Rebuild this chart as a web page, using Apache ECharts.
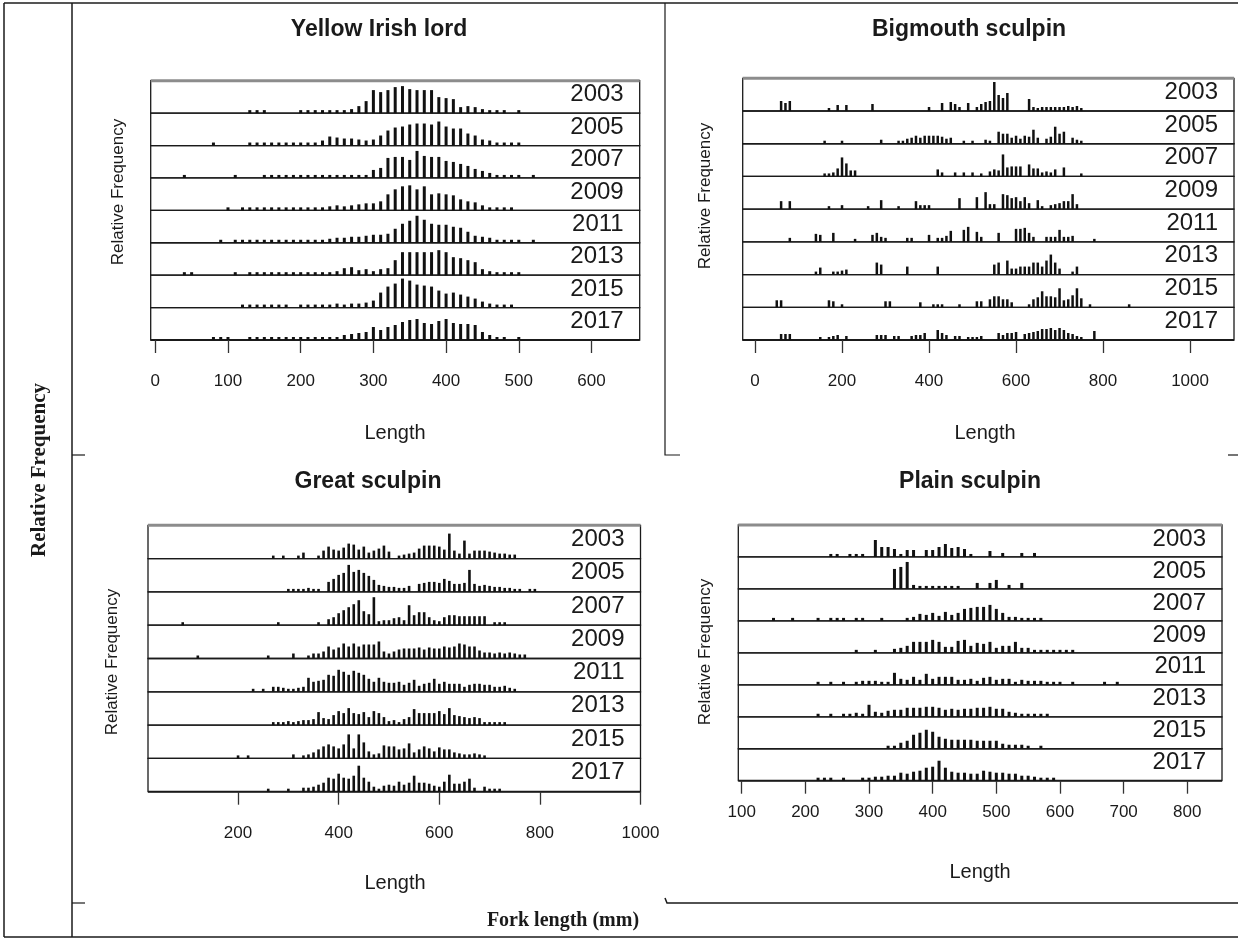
<!DOCTYPE html>
<html>
<head>
<meta charset="utf-8">
<script src="https://cdn.jsdelivr.net/npm/echarts@6/dist/echarts.min.js"></script>
<style>
html, body { margin: 0; padding: 0; background: #fff; }
#chart { width: 1238px; height: 940px; }
</style>
</head>
<body>
<div id="chart"></div>
<script>
// survey years, one strip per year (top to bottom)
const years = [2003, 2005, 2007, 2009, 2011, 2013, 2015, 2017]

// each run = [first length (mm), heights of consecutive 10 mm bins...]
const yellowIrishLord = [
  [[130, 1, 1, 1], [200, 1, 1, 1, 1, 1, 1.5, 2, 4, 7, 12, 23, 21, 23, 26, 27, 24, 23, 23, 23, 16, 15, 14, 6, 7, 6, 4, 3, 3, 2], [500, 1.5]],
  [[80, 1.5], [130, 1, 1, 1, 1, 1, 1, 1, 1, 1.5, 2, 5, 9, 8, 7, 7, 6, 5, 6, 10, 15, 18, 19, 21, 22, 22, 21, 24, 19, 17, 17, 12, 10, 6, 5, 3, 3, 2.5, 2]],
  [[40, 1.5], [110, 1.5], [150, 1, 1, 1, 1, 1, 1, 1, 1, 1, 1, 1, 2, 2, 3, 3, 8, 10, 20, 21, 21, 18, 27, 22, 21, 21, 17, 16, 14, 12, 9, 7, 5, 2.5, 2, 2, 2], [520, 2]],
  [[100, 1.5], [120, 1, 1, 1, 1.5, 1.5, 1.5, 1.5, 1, 1, 1, 1.5, 1.5, 4, 5, 4, 5, 6, 7, 7, 9, 16, 21, 24, 25, 21, 24, 16, 17, 16, 15, 11, 9, 8, 5, 3, 2, 2, 2]],
  [[90, 1.5], [110, 1, 1, 1, 1, 1, 2, 3, 3, 2, 1, 1, 1, 1.5, 4, 5, 5, 6, 6, 7, 8, 8, 9, 14, 19, 22, 27, 23, 19, 18, 18, 16, 15, 11, 7, 6, 5, 3, 2, 2, 2], [520, 2]],
  [[40, 1, 1], [110, 1], [130, 1, 1, 1, 1, 1, 1, 1, 1, 1, 1, 1, 2, 4, 7, 8, 5, 6, 4, 6, 7, 15, 23, 23, 23, 23, 23, 25, 23, 18, 17, 15, 13, 6, 4, 3, 3, 2, 2]],
  [[120, 1, 1, 1, 1, 1, 1, 1], [200, 1, 1, 1.5, 2, 3, 4, 3, 4, 4, 5, 7, 15, 21, 24, 29, 27, 23, 22, 21, 17, 14, 15, 13, 11, 9, 6, 4, 3, 2, 2]],
  [[80, 1, 1, 1], [130, 1, 1, 1, 1, 1, 1, 1, 1, 1, 1, 1.5, 2, 3, 5, 6, 7, 8, 13, 10, 13, 15, 18, 20, 21, 17, 16, 19, 21, 17, 16, 16, 15, 8, 5, 3, 2], [500, 1.5]]
]

const bigmouthSculpin = [
  [[60, 10, 8, 10], [170, 3], [190, 6], [210, 6], [270, 7], [400, 4], [430, 8], [450, 9, 7, 4], [490, 8], [510, 4, 7, 9, 10, 29, 16, 13, 18], [630, 12, 4, 3, 4, 4, 4, 4, 4, 4, 5, 4, 5, 3]],
  [[160, 3], [200, 3], [290, 4], [330, 3, 3, 5, 6, 8, 6, 8, 8, 8, 8, 7, 5, 6], [480, 3], [500, 3], [530, 4, 3], [560, 12, 10, 10, 6, 8, 5, 8, 7, 14, 6], [670, 5, 7, 17, 10, 12], [730, 6, 4, 3]],
  [[160, 3, 3, 4, 8, 19, 13, 6, 6], [420, 7, 4], [460, 4], [480, 4], [500, 4], [520, 3], [540, 5, 7, 6, 22, 9, 10, 10, 10], [630, 12, 8, 8, 4, 5, 4, 7], [710, 9], [750, 3]],
  [[60, 8], [80, 8], [170, 3], [200, 4], [260, 3], [290, 9], [330, 3], [370, 8, 4, 4, 4], [470, 11], [510, 12], [530, 17, 5, 5], [570, 15, 14, 11, 12, 8, 12, 6], [650, 9, 3], [680, 4, 5, 6, 8, 8, 15, 5]],
  [[80, 4], [140, 8, 7], [180, 9], [230, 3], [270, 7, 9, 5, 4], [350, 4, 4], [400, 7], [420, 4, 4, 6, 11], [480, 12, 15], [510, 10, 5], [560, 9], [600, 13, 13, 14, 9, 5], [670, 5, 5, 5, 12, 5, 5, 6], [780, 3]],
  [[140, 3, 7], [180, 3, 3, 4, 5], [280, 12, 10], [350, 8], [420, 8], [550, 10, 12], [580, 14, 6, 6, 8, 8, 8, 12, 12, 8, 14, 20, 12, 6], [730, 3, 8]],
  [[50, 7, 7], [170, 7, 6], [200, 3], [300, 6, 6], [380, 5], [410, 3, 2, 2], [470, 3], [510, 6, 6], [540, 8, 11, 11, 8, 8, 5], [630, 3, 8, 10, 16, 11, 11, 10, 19, 7, 8, 12, 19, 9], [770, 3], [860, 3]],
  [[60, 6, 6, 6], [150, 3], [170, 3, 4, 5], [210, 4], [280, 5, 5, 5], [320, 4, 4], [360, 4, 5, 5, 7], [420, 10, 7, 5], [460, 4, 4], [490, 3, 3, 3, 4], [560, 7, 5, 7, 7, 8], [620, 6, 7, 8, 9, 11, 11, 12, 10, 12, 10, 7, 6, 4, 3], [780, 9]]
]

const greatSculpin = [
  [[270, 3, 0, 3, 0, 0, 3, 6, 0, 0, 3, 8, 12, 9, 8, 11, 15, 14, 9, 12, 6, 8, 10, 13, 7, 0, 3, 4, 5, 6, 10, 13, 13, 13, 12, 9, 25, 8, 5, 18, 5, 8, 8, 8, 7, 6, 5, 5, 4, 4]],
  [[300, 3, 3, 3, 3, 4, 3, 3, 0, 10, 13, 17, 19, 27, 20, 22, 19, 16, 12, 7, 6, 5, 5, 4, 4, 6, 0, 8, 9, 10, 10, 9, 13, 11, 8, 8, 9, 22, 8, 6, 7, 6, 5, 5, 4, 4, 3, 3, 0, 3, 3]],
  [[90, 3], [280, 3], [360, 3, 0, 6, 8, 12, 15, 18, 21, 25, 14, 11, 28, 4, 5, 5, 7, 8, 5, 20, 10, 13, 13, 8, 5, 4, 8, 10, 10, 9, 9, 9, 9, 9, 9, 0, 3, 3, 3]],
  [[120, 3], [260, 3], [310, 5, 0, 0, 3, 5, 5, 7, 12, 9, 11, 15, 12, 15, 12, 14, 14, 14, 17, 7, 5, 7, 9, 10, 10, 10, 11, 9, 11, 10, 10, 12, 11, 12, 15, 14, 12, 12, 8, 6, 6, 5, 6, 5, 6, 5, 4, 4]],
  [[230, 3, 0, 3, 0, 5, 5, 4, 3, 3, 4, 5, 14, 10, 11, 12, 17, 16, 22, 20, 17, 21, 19, 17, 13, 10, 14, 10, 9, 9, 10, 7, 9, 12, 6, 8, 9, 13, 8, 10, 8, 8, 8, 5, 7, 8, 8, 7, 7, 5, 5, 6, 4, 3]],
  [[270, 3, 3, 3, 4, 3, 4, 5, 5, 6, 13, 7, 6, 10, 14, 12, 17, 12, 11, 13, 8, 14, 12, 8, 4, 5, 3, 6, 8, 16, 12, 12, 12, 12, 14, 11, 17, 10, 9, 8, 7, 8, 7, 3, 3, 3, 3, 3]],
  [[200, 3], [220, 3], [310, 4, 0, 3, 4, 6, 9, 12, 14, 12, 10, 14, 24, 10, 24, 16, 7, 4, 5, 13, 12, 12, 9, 10, 15, 6, 9, 12, 10, 7, 11, 9, 9, 6, 5, 4, 4, 5, 4, 3]],
  [[260, 3], [300, 3], [330, 4, 4, 5, 7, 9, 14, 13, 18, 14, 13, 16, 26, 14, 10, 5, 3, 6, 7, 6, 10, 7, 9, 16, 9, 9, 8, 6, 5, 10, 17, 8, 8, 10, 13, 4, 0, 5, 3, 3, 3]]
]

const plainSculpin = [
  [[240, 3, 3], [270, 3, 3, 3], [310, 17, 10, 10, 8, 3, 7, 7, 0, 7, 7, 10, 13, 9, 10, 8, 3], [490, 6], [510, 4], [540, 4], [560, 4]],
  [[340, 20, 22, 27, 4, 3, 3, 3, 3, 3, 3, 3], [470, 6], [490, 6, 9], [520, 4], [540, 6]],
  [[150, 3], [180, 3], [220, 3], [240, 3, 3, 3], [280, 3, 3], [320, 3], [360, 3, 4, 7, 6, 8, 5, 9, 6, 8, 12, 13, 14, 14, 16, 12, 8, 4, 4, 3, 3], [560, 3, 3]],
  [[280, 3], [310, 3], [340, 4, 5, 7, 11, 11, 11, 13, 11, 6, 6, 12, 13, 7, 10, 9, 11, 5, 7, 7, 11, 5, 5, 3, 3, 3, 3, 3, 3, 3]],
  [[220, 3], [240, 3], [260, 3], [280, 3, 4, 4, 4, 3, 3, 12, 6, 5, 8, 5, 11, 6, 8, 8, 8, 5, 5, 6, 4, 7, 8, 5, 6, 6, 3, 5, 4, 4, 4, 3, 3, 3], [620, 3], [670, 3], [690, 3]],
  [[220, 3], [240, 3], [260, 3, 3, 4, 3, 12, 5, 4, 6, 7, 7, 9, 9, 9, 10, 10, 9, 7, 8, 7, 8, 8, 9, 9, 10, 8, 8, 5, 4, 3, 3, 3, 3, 3]],
  [[330, 3, 3, 6, 8, 14, 16, 19, 17, 12, 10, 9, 9, 9, 9, 8, 8, 8, 8, 5, 4, 4, 4, 3], [570, 3]],
  [[220, 3, 3, 3], [260, 3], [290, 3, 3, 4, 4, 5, 5, 8, 7, 9, 10, 13, 14, 20, 13, 9, 8, 8, 7, 7, 10, 9, 8, 8, 7, 7, 5, 5, 4, 3, 3, 3]]
]

// tick labels of each panel
const ticksYellow = [0, 100, 200, 300, 400, 500, 600]
const ticksBigmouth = [0, 200, 400, 600, 800, 1000]
const ticksGreat = [200, 400, 600, 800, 1000]
const ticksPlain = [100, 200, 300, 400, 500, 600, 700, 800]

const panels = [
  { title: 'Yellow Irish lord', data: yellowIrishLord, ticks: ticksYellow, left: 150.7, right: 639.7, top: 80.7, bottom: 340, xMin: -6.3, xMax: 666.3, yMax: 32.4, barWidth: 3, labelMargin: 33, titleX: 379, titleY: 30, ylabX: 118, ylabY: 192, lenX: 395, lenY: 433 },
  { title: 'Bigmouth sculpin', data: bigmouthSculpin, ticks: ticksBigmouth, left: 742.7, right: 1234, top: 78.3, bottom: 340, xMin: -28.3, xMax: 1101, yMax: 32.7, barWidth: 2.5, labelMargin: 33, titleX: 969, titleY: 30, ylabX: 705, ylabY: 196, lenX: 985, lenY: 433 },
  { title: 'Great sculpin', data: greatSculpin, ticks: ticksGreat, left: 148, right: 640.5, top: 525.3, bottom: 791.7, xMin: 21, xMax: 1000, yMax: 33.3, barWidth: 2.6, labelMargin: 33, titleX: 368, titleY: 482, ylabX: 112, ylabY: 662, lenX: 395, lenY: 883 },
  { title: 'Plain sculpin', data: plainSculpin, ticks: ticksPlain, left: 738.3, right: 1222, top: 525, bottom: 780.7, xMin: 94.7, xMax: 854.5, yMax: 32, barWidth: 3, labelMargin: 23, titleX: 970, titleY: 482, ylabX: 705, ylabY: 652, lenX: 980, lenY: 872 }
]

// runs -> [length, height] points, empty bins dropped
function toBars (runs) {
  const out = []
  runs.forEach(run => {
    const start = run[0]
    run.slice(1).forEach((h, i) => {
      if (h > 0) out.push([start + i * 10, h])
    })
  })
  return out
}

function label (text, x, y, font, opts, align) {
  const a = align || 'center'
  return Object.assign({
    type: 'text',
    x: x,
    y: y,
    silent: true,
    style: {
      text: text,
      font: font,
      fill: '#1a1a1a',
      align: a,
      verticalAlign: 'middle',
      textAlign: a,
      textVerticalAlign: 'middle'
    }
  }, opts || {})
}

function line (points, color, width) {
  return {
    type: 'polyline',
    silent: true,
    shape: { points: points },
    style: { stroke: color, lineWidth: width, fill: null }
  }
}

const grid = []
const xAxis = []
const yAxis = []
const series = []
const graphic = []

panels.forEach(p => {
  const rowH = (p.bottom - p.top) / years.length
  p.data.forEach((runs, r) => {
    const gi = grid.length
    const top = p.top + r * rowH
    const last = r === years.length - 1
    grid.push({
      left: p.left,
      top: top,
      width: p.right - p.left,
      height: rowH,
      show: true,
      borderColor: '#1a1a1a',
      borderWidth: 1.3
    })
    xAxis.push({
      gridIndex: gi,
      type: 'value',
      min: p.xMin,
      max: p.xMax,
      axisLine: { show: false },
      splitLine: { show: false },
      axisTick: { show: last, inside: false, length: 13, customValues: p.ticks, lineStyle: { color: '#333', width: 1.3 } },
      axisLabel: {
        show: last,
        customValues: p.ticks,
        margin: p.labelMargin,
        fontSize: 17,
        color: '#1a1a1a',
        fontFamily: 'Liberation Sans',
        formatter: v => String(v)
      }
    })
    yAxis.push({ gridIndex: gi, type: 'value', min: 0, max: p.yMax, show: false })
    series.push({
      type: 'bar',
      xAxisIndex: gi,
      yAxisIndex: gi,
      data: toBars(runs),
      barWidth: p.barWidth,
      barMinHeight: 3,
      silent: true,
      itemStyle: { color: '#111' }
    })
    graphic.push(label(String(years[r]), p.right - 16, top + 14, '24px "Liberation Sans"', null, 'right'))
  })
  // panel top (grey) and bottom (heavy) edges
  graphic.push(line([[p.left, p.top], [p.right, p.top]], '#8c8c8c', 3))
  graphic.push(line([[p.left, p.bottom], [p.right, p.bottom]], '#1a1a1a', 2))
  graphic.push(label(p.title, p.titleX, p.titleY, 'bold 23px "Liberation Sans"'))
  graphic.push(label('Relative Frequency', p.ylabX, p.ylabY, '17px "Liberation Sans"', { rotation: Math.PI / 2 }))
  graphic.push(label('Length', p.lenX, p.lenY, '20px "Liberation Sans"'))
})

// table frame around the figure
graphic.push(line([[4, 3], [1238, 3]], '#555', 2))
graphic.push(line([[4, 3], [4, 937]], '#1a1a1a', 1.5))
graphic.push(line([[4, 937], [1238, 937]], '#1a1a1a', 1.5))
graphic.push(line([[72, 3], [72, 937]], '#1a1a1a', 1.5))
graphic.push(line([[665, 3], [665, 455], [680, 455]], '#1a1a1a', 1.2))
graphic.push(line([[72, 455], [85, 455]], '#1a1a1a', 1.2))
graphic.push(line([[1228, 455], [1238, 455]], '#1a1a1a', 1.2))
graphic.push(line([[72, 903], [85, 903]], '#1a1a1a', 1.2))
graphic.push(line([[665, 898], [667, 903], [1238, 903]], '#1a1a1a', 1.5))
graphic.push(label('Relative Frequency', 40, 470, 'bold 21px "Liberation Serif"', { rotation: Math.PI / 2 }))
graphic.push(label('Fork length (mm)', 563, 921, 'bold 20px "Liberation Serif"'))

const chart = echarts.init(document.getElementById('chart'))
chart.setOption({
  animation: false,
  backgroundColor: '#fff',
  textStyle: { fontFamily: 'Liberation Sans' },
  grid: grid,
  xAxis: xAxis,
  yAxis: yAxis,
  series: series,
  graphic: graphic
})
</script>
</body>
</html>
